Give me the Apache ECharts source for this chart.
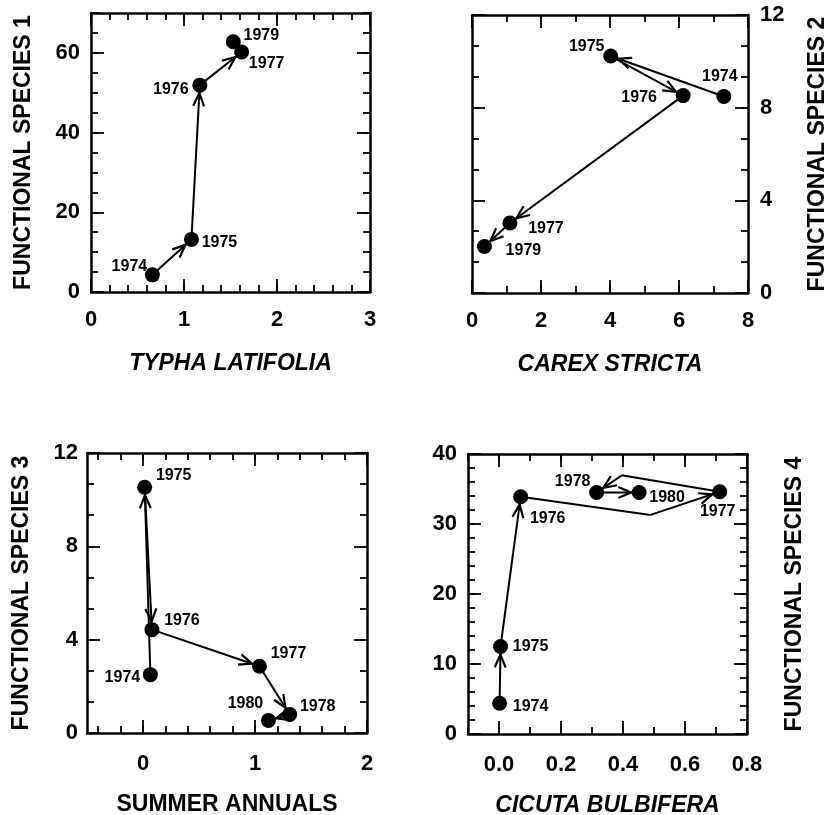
<!DOCTYPE html>
<html>
<head>
<meta charset="utf-8">
<script src="https://cdn.jsdelivr.net/npm/echarts@6/dist/echarts.min.js"></script>
<style>
html,body{margin:0;padding:0;background:#fff;}
#chart{width:828px;height:815px;}
</style>
</head>
<body>
<div id="chart"></div>
<script>
// ---------------- DATA ----------------
// Panel 1: Typha latifolia vs Functional species 1
const p1Years = ['1974', '1975', '1976', '1977', '1979'];
const p1X = [0.66, 1.08, 1.17, 1.62, 1.53];
const p1Y = [4.3, 13.2, 51.9, 60.2, 62.8];
const p1Heads = [1, 1, 1, 0];

// Panel 2: Carex stricta vs Functional species 2
const p2Years = ['1974', '1975', '1976', '1977', '1979'];
const p2X = [7.30, 4.02, 6.12, 1.10, 0.36];
const p2Y = [8.48, 10.23, 8.52, 3.02, 2.01];
const p2Heads = [1, 1, 1, 1];

// Panel 3: Summer annuals vs Functional species 3
const p3Years = ['1974', '1975', '1976', '1977', '1978', '1980'];
const p3X = [0.066, 0.015, 0.08, 1.04, 1.31, 1.12];
const p3Y = [2.5, 10.53, 4.43, 2.86, 0.79, 0.54];
const p3Heads = [1, 1, 1, 1, 1];

// Panel 4: Cicuta bulbifera vs Functional species 4
const p4Years = ['1974', '1975', '1976', '1977', '1978', '1980'];
const p4X = [0.002, 0.005, 0.07, 0.712, 0.315, 0.452];
const p4Y = [4.4, 12.5, 33.9, 34.6, 34.5, 34.5];
const p4Heads = [1, 1, 1, 1, 1];
// bend points of the drawn path (per segment, null = straight)
const p4BendX = [null, null, 0.489, 0.396, null];
const p4BendY = [null, null, 31.3, 36.95, null];

// Tick labels
const p1XTicks = [0, 1, 2, 3];
const p1YTicks = [0, 20, 40, 60];
const p2XTicks = [0, 2, 4, 6, 8];
const p2YTicks = [0, 4, 8, 12];
const p3XTicks = [0, 1, 2];
const p3YTicks = [0, 4, 8, 12];
const p4XTicks = [0, 0.2, 0.4, 0.6, 0.8];
const p4YTicks = [0, 10, 20, 30, 40];

// ---------------- STYLE / LAYOUT ----------------
const FONT = 'Liberation Sans';
const p1LabelOff = [[-23, -8], [28, 3], [-29, 4], [25, 12], [28, -6]];
const p2LabelOff = [[-4, -20], [-24, -9], [-44, 2], [36, 6], [39, 4]];
const p3LabelOff = [[-28, 3], [29, -12], [30, -9], [29, -13], [28, -8], [-23, -17]];
const p4LabelOff = [[31, 3], [30, 0], [27, 22], [-2, 20], [-24, -11], [28, 5]];

function steps(a, b, n) { // n equal parts between a and b
  const out = [];
  for (let i = 0; i <= n; i++) out.push(+(a + (b - a) * i / n).toFixed(6));
  return out;
}

const grids = [
  {left: 91, top: 13, width: 279, height: 279, outerBoundsMode: 'none', containLabel: false},
  {left: 472, top: 15, width: 276, height: 278, outerBoundsMode: 'none', containLabel: false},
  {left: 87, top: 453, width: 280, height: 280, outerBoundsMode: 'none', containLabel: false},
  {left: 468, top: 454, width: 279, height: 280, outerBoundsMode: 'none', containLabel: false}
];

const xAxes = [], yAxes = [];
function axisSet(list, dim, gridIndex, cfg) {
  const base = list.length;
  const sides = dim === 'x' ? ['bottom', 'top'] : ['left', 'right'];
  sides.forEach(side => {
    [cfg.major, cfg.minor].forEach((vals, k) => {
      const isMain = k === 0;
      const showLabel = isMain && side === cfg.labelSide;
      const showName = isMain && side === cfg.nameSide;
      list.push({
        type: 'value', gridIndex, position: side,
        min: cfg.min, max: cfg.max,
        axisLine: {show: isMain, onZero: false, lineStyle: {color: '#000', width: 2.5}},
        axisTick: {show: true, inside: true, customValues: vals, length: isMain ? 13 : 7,
                   lineStyle: {color: '#000', width: 1.8}},
        axisLabel: {show: showLabel, customValues: cfg.major, margin: cfg.labelMargin,
                    color: '#000', fontFamily: FONT, fontWeight: 'bold', fontSize: 22,
                    formatter: cfg.fmt || (v => String(v))},
        splitLine: {show: false},
        name: showName ? cfg.name : '',
        nameLocation: 'middle', nameGap: cfg.nameGap,
        nameTextStyle: {color: '#000', fontFamily: FONT, fontWeight: 'bold', fontSize: 23,
                        fontStyle: cfg.italic ? 'italic' : 'normal'}
      });
    });
  });
  return base;
}

const axisIdx = [];
// Panel 1
axisIdx.push([
  axisSet(xAxes, 'x', 0, {min: 0, max: 3, major: p1XTicks, minor: steps(0, 3, 15), labelSide: 'bottom',
    nameSide: 'bottom', name: 'TYPHA LATIFOLIA', italic: true, labelMargin: 17, nameGap: 60}),
  axisSet(yAxes, 'y', 0, {min: 0, max: 70, major: p1YTicks, minor: steps(0, 70, 14), labelSide: 'left',
    nameSide: 'left', name: 'FUNCTIONAL SPECIES 1', labelMargin: 11, nameGap: 56})
]);
// Panel 2
axisIdx.push([
  axisSet(xAxes, 'x', 1, {min: 0, max: 8, major: p2XTicks, minor: steps(0, 8, 8), labelSide: 'bottom',
    nameSide: 'bottom', name: 'CAREX STRICTA', italic: true, labelMargin: 17, nameGap: 60}),
  axisSet(yAxes, 'y', 1, {min: 0, max: 12, major: p2YTicks, minor: steps(0, 12, 9), labelSide: 'right',
    nameSide: 'right', name: 'FUNCTIONAL SPECIES 2', labelMargin: 12, nameGap: 58})
]);
// Panel 3
axisIdx.push([
  axisSet(xAxes, 'x', 2, {min: -0.5, max: 2, major: p3XTicks, minor: steps(-0.4, 2, 12), labelSide: 'bottom',
    nameSide: 'bottom', name: 'SUMMER ANNUALS', italic: false, labelMargin: 20, nameGap: 60}),
  axisSet(yAxes, 'y', 2, {min: 0, max: 12, major: p3YTicks, minor: steps(0, 12, 9), labelSide: 'left',
    nameSide: 'left', name: 'FUNCTIONAL SPECIES 3', labelMargin: 9, nameGap: 54})
]);
// Panel 4
axisIdx.push([
  axisSet(xAxes, 'x', 3, {min: -0.1, max: 0.8, major: p4XTicks, minor: steps(-0.1, 0.8, 9), labelSide: 'bottom',
    nameSide: 'bottom', name: 'CICUTA BULBIFERA', italic: true, labelMargin: 20, nameGap: 60,
    fmt: v => v.toFixed(1)}),
  axisSet(yAxes, 'y', 3, {min: 0, max: 40, major: p4YTicks, minor: steps(0, 40, 20), labelSide: 'left',
    nameSide: 'right', name: 'FUNCTIONAL SPECIES 4', labelMargin: 11, nameGap: 36})
]);

function buildSegments(xs, ys, heads, bx, by) {
  const segs = [];
  for (let i = 0; i < xs.length - 1; i++) {
    if (bx && bx[i] != null) {
      segs.push([xs[i], ys[i], bx[i], by[i], 0]);
      segs.push([bx[i], by[i], xs[i + 1], ys[i + 1], heads[i]]);
    } else {
      segs.push([xs[i], ys[i], xs[i + 1], ys[i + 1], heads[i]]);
    }
  }
  return segs;
}

function arrowRender(params, api) {
  const p1 = api.coord([api.value(0), api.value(1)]);
  const p2 = api.coord([api.value(2), api.value(3)]);
  const children = [{
    type: 'line', shape: {x1: p1[0], y1: p1[1], x2: p2[0], y2: p2[1]},
    style: {stroke: '#000', lineWidth: 2}
  }];
  if (api.value(4)) {
    const dx = p2[0] - p1[0], dy = p2[1] - p1[1];
    const L = Math.hypot(dx, dy) || 1;
    const ux = dx / L, uy = dy / L;
    const back = 8, len = 14, ang = 0.4;
    const tx = p2[0] - ux * back, ty = p2[1] - uy * back;
    const w = s => {
      const c = Math.cos(s * ang), sn = Math.sin(s * ang);
      const rx = -ux * c + uy * sn, ry = -ux * sn - uy * c;
      return [tx + rx * len, ty + ry * len];
    };
    children.push({
      type: 'polyline', shape: {points: [w(1), [tx, ty], w(-1)]},
      style: {stroke: '#000', lineWidth: 2.2, fill: null}
    });
  }
  return {type: 'group', children};
}

const panels = [
  {years: p1Years, x: p1X, y: p1Y, heads: p1Heads, off: p1LabelOff},
  {years: p2Years, x: p2X, y: p2Y, heads: p2Heads, off: p2LabelOff},
  {years: p3Years, x: p3X, y: p3Y, heads: p3Heads, off: p3LabelOff},
  {years: p4Years, x: p4X, y: p4Y, heads: p4Heads, off: p4LabelOff, bx: p4BendX, by: p4BendY}
];

const series = [];
panels.forEach((p, i) => {
  const xi = axisIdx[i][0], yi = axisIdx[i][1];
  series.push({
    type: 'custom', coordinateSystem: 'cartesian2d', xAxisIndex: xi, yAxisIndex: yi,
    data: buildSegments(p.x, p.y, p.heads, p.bx, p.by),
    encode: {x: [0, 2], y: [1, 3]},
    renderItem: arrowRender, silent: true, z: 2, clip: false
  });
  series.push({
    type: 'scatter', xAxisIndex: xi, yAxisIndex: yi, symbol: 'circle', symbolSize: 15,
    itemStyle: {color: '#000', opacity: 1}, z: 3, silent: true,
    data: p.years.map((yr, k) => ({
      value: [p.x[k], p.y[k]], name: yr,
      label: {show: true, position: 'inside', offset: p.off[k], formatter: yr, opacity: 1,
              color: '#000', fontFamily: FONT, fontWeight: 'bold', fontSize: 16}
    }))
  });
});

const chart = echarts.init(document.getElementById('chart'), null, {renderer: 'canvas'});
chart.setOption({
  backgroundColor: '#fff',
  animation: false,
  grid: grids,
  xAxis: xAxes,
  yAxis: yAxes,
  series
});
</script>
</body>
</html>
